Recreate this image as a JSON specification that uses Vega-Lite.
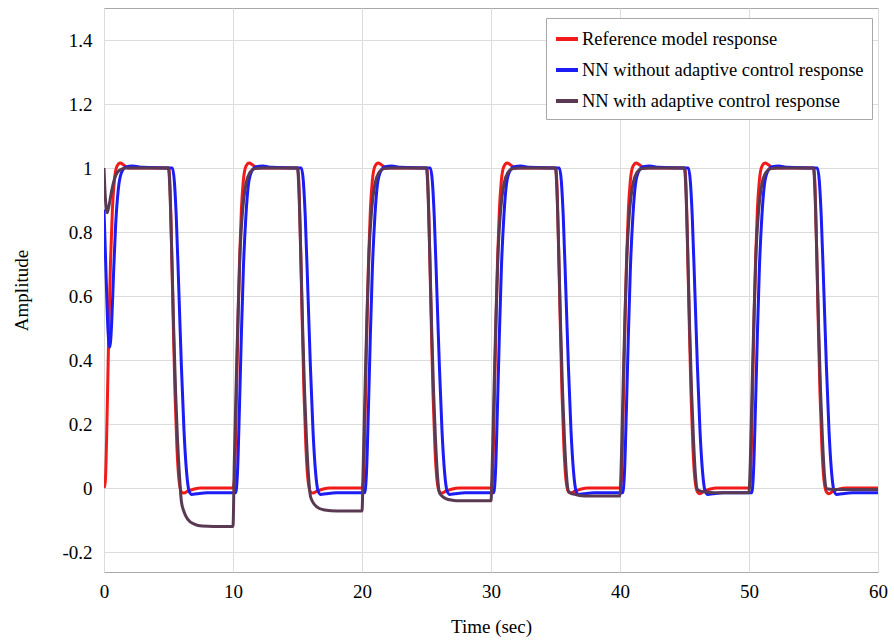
{
 "$schema": "https://vega.github.io/schema/vega-lite/v6.json",
 "width": 774, "height": 564,
 "autosize": {"type": "none"},
 "padding": {"left": 104, "top": 8, "right": 16, "bottom": 69},
 "background": "white",
 "config": {"view": {"stroke": "#a8a8a8", "strokeWidth": 1}, "font": "'Liberation Serif', 'Times New Roman', serif"},
 "encoding": {
  "x": {"field": "t", "type": "quantitative", "scale": {"domain": [0, 60], "nice": false},
   "axis": {"values": [0, 10, 20, 30, 40, 50, 60], "title": "Time (sec)", "grid": true, "gridColor": "#dcdcdc", "domain": false, "ticks": false,
    "labelFontSize": 19, "labelFont": "'Liberation Serif', 'Times New Roman', serif", "labelColor": "black", "labelPadding": 10, "labelFlush": false, "labelOverlap": false,
    "titleFontSize": 19, "titleFont": "'Liberation Serif', 'Times New Roman', serif", "titleFontWeight": "normal", "titleColor": "black", "titlePadding": 16}},
  "y": {"field": "y", "type": "quantitative", "scale": {"domain": [-0.2625, 1.5], "nice": false, "zero": false},
   "axis": {"values": [-0.2, 0, 0.2, 0.4, 0.6, 0.8, 1, 1.2, 1.4], "labelExpr": "'' + datum.value", "title": "Amplitude", "grid": true, "gridColor": "#dcdcdc", "domain": false, "ticks": false,
    "labelFontSize": 19, "labelFont": "'Liberation Serif', 'Times New Roman', serif", "labelColor": "black", "labelPadding": 12, "labelOverlap": false,
    "titleFontSize": 19, "titleFont": "'Liberation Serif', 'Times New Roman', serif", "titleFontWeight": "normal", "titleColor": "black", "titlePadding": 30}}
 },
 "layer": [
  {
   "data": {"values": [
    {"t":0,"y":0},{"t":0.1,"y":0.02},{"t":0.2,"y":0.15},{"t":0.35,"y":0.45},{"t":0.5,"y":0.7},{"t":0.65,"y":0.87},{"t":0.8,"y":0.96},{"t":1,"y":1.005},{"t":1.25,"y":1.016},{"t":1.5,"y":1.01},{"t":1.9,"y":1},{"t":5,"y":1},
    {"t":5.1,"y":0.96},{"t":5.2,"y":0.82},{"t":5.35,"y":0.55},{"t":5.5,"y":0.3},{"t":5.65,"y":0.13},{"t":5.8,"y":0.03},{"t":6,"y":-0.012},{"t":6.2,"y":-0.016},{"t":6.5,"y":-0.01},{"t":7,"y":-0.003},{"t":7.5,"y":0},{"t":10,"y":0},
    {"t":10.1,"y":0.02},{"t":10.2,"y":0.15},{"t":10.35,"y":0.45},{"t":10.5,"y":0.7},{"t":10.65,"y":0.87},{"t":10.8,"y":0.96},{"t":11,"y":1.005},{"t":11.25,"y":1.016},{"t":11.5,"y":1.01},{"t":11.9,"y":1},{"t":15,"y":1},
    {"t":15.1,"y":0.96},{"t":15.2,"y":0.82},{"t":15.35,"y":0.55},{"t":15.5,"y":0.3},{"t":15.65,"y":0.13},{"t":15.8,"y":0.03},{"t":16,"y":-0.012},{"t":16.2,"y":-0.016},{"t":16.5,"y":-0.01},{"t":17,"y":-0.003},{"t":17.5,"y":0},{"t":20,"y":0},
    {"t":20.1,"y":0.02},{"t":20.2,"y":0.15},{"t":20.35,"y":0.45},{"t":20.5,"y":0.7},{"t":20.65,"y":0.87},{"t":20.8,"y":0.96},{"t":21,"y":1.005},{"t":21.25,"y":1.016},{"t":21.5,"y":1.01},{"t":21.9,"y":1},{"t":25,"y":1},
    {"t":25.1,"y":0.96},{"t":25.2,"y":0.82},{"t":25.35,"y":0.55},{"t":25.5,"y":0.3},{"t":25.65,"y":0.13},{"t":25.8,"y":0.03},{"t":26,"y":-0.012},{"t":26.2,"y":-0.016},{"t":26.5,"y":-0.01},{"t":27,"y":-0.003},{"t":27.5,"y":0},{"t":30,"y":0},
    {"t":30.1,"y":0.02},{"t":30.2,"y":0.15},{"t":30.35,"y":0.45},{"t":30.5,"y":0.7},{"t":30.65,"y":0.87},{"t":30.8,"y":0.96},{"t":31,"y":1.005},{"t":31.25,"y":1.016},{"t":31.5,"y":1.01},{"t":31.9,"y":1},{"t":35,"y":1},
    {"t":35.1,"y":0.96},{"t":35.2,"y":0.82},{"t":35.35,"y":0.55},{"t":35.5,"y":0.3},{"t":35.65,"y":0.13},{"t":35.8,"y":0.03},{"t":36,"y":-0.012},{"t":36.2,"y":-0.016},{"t":36.5,"y":-0.01},{"t":37,"y":-0.003},{"t":37.5,"y":0},{"t":40,"y":0},
    {"t":40.1,"y":0.02},{"t":40.2,"y":0.15},{"t":40.35,"y":0.45},{"t":40.5,"y":0.7},{"t":40.65,"y":0.87},{"t":40.8,"y":0.96},{"t":41,"y":1.005},{"t":41.25,"y":1.016},{"t":41.5,"y":1.01},{"t":41.9,"y":1},{"t":45,"y":1},
    {"t":45.1,"y":0.96},{"t":45.2,"y":0.82},{"t":45.35,"y":0.55},{"t":45.5,"y":0.3},{"t":45.65,"y":0.13},{"t":45.8,"y":0.03},{"t":46,"y":-0.012},{"t":46.2,"y":-0.018},{"t":46.5,"y":-0.01},{"t":47,"y":-0.003},{"t":47.5,"y":0},{"t":50,"y":0},
    {"t":50.1,"y":0.02},{"t":50.2,"y":0.15},{"t":50.35,"y":0.45},{"t":50.5,"y":0.7},{"t":50.65,"y":0.87},{"t":50.8,"y":0.96},{"t":51,"y":1.005},{"t":51.25,"y":1.016},{"t":51.5,"y":1.01},{"t":51.9,"y":1},{"t":55,"y":1},
    {"t":55.1,"y":0.96},{"t":55.2,"y":0.82},{"t":55.35,"y":0.55},{"t":55.5,"y":0.3},{"t":55.65,"y":0.13},{"t":55.8,"y":0.03},{"t":56,"y":-0.012},{"t":56.2,"y":-0.018},{"t":56.5,"y":-0.01},{"t":57,"y":-0.003},{"t":57.5,"y":0},{"t":60,"y":0}
   ]},
   "mark": {"type": "line", "strokeWidth": 3, "interpolate": "monotone", "clip": true},
   "encoding": {"color": {"datum": "Reference model response", "type": "nominal",
    "scale": {"domain": ["Reference model response", "NN without adaptive control response", "NN with adaptive control response"], "range": ["#f21b1b", "#1c1cf5", "#5a3a52"]},
    "legend": {"orient": "none", "legendX": 442, "legendY": 10, "title": null, "symbolType": "stroke", "symbolStrokeWidth": 4, "symbolSize": 484,
     "labelFont": "'Liberation Serif', 'Times New Roman', serif", "labelFontSize": 18.5, "labelColor": "black", "labelLimit": 400, "labelOffset": 2, "padding": 8, "rowPadding": 8,
     "strokeColor": "#a8a8a8", "fillColor": "white"}}}
  },
  {
   "data": {"values": [
    {"t":0,"y":0.87},{"t":0.15,"y":0.68},{"t":0.3,"y":0.5},{"t":0.45,"y":0.44},{"t":0.6,"y":0.52},{"t":0.75,"y":0.68},{"t":0.9,"y":0.82},{"t":1.1,"y":0.93},{"t":1.35,"y":0.985},{"t":1.7,"y":1.003},{"t":2.2,"y":1.006},{"t":3,"y":1.002},{"t":5.3,"y":1},
    {"t":5.45,"y":0.96},{"t":5.6,"y":0.85},{"t":5.8,"y":0.62},{"t":6,"y":0.38},{"t":6.2,"y":0.18},{"t":6.4,"y":0.05},{"t":6.6,"y":-0.01},{"t":6.8,"y":-0.02},{"t":7.2,"y":-0.018},{"t":8,"y":-0.015},{"t":10.2,"y":-0.015},
    {"t":10.35,"y":0.05},{"t":10.5,"y":0.25},{"t":10.65,"y":0.48},{"t":10.8,"y":0.68},{"t":11,"y":0.85},{"t":11.2,"y":0.95},{"t":11.45,"y":0.99},{"t":11.8,"y":1.004},{"t":12.3,"y":1.006},{"t":13,"y":1.002},{"t":15.3,"y":1},
    {"t":15.45,"y":0.96},{"t":15.6,"y":0.85},{"t":15.8,"y":0.62},{"t":16,"y":0.38},{"t":16.2,"y":0.18},{"t":16.4,"y":0.05},{"t":16.6,"y":-0.01},{"t":16.8,"y":-0.02},{"t":17.2,"y":-0.018},{"t":18,"y":-0.015},{"t":20.2,"y":-0.015},
    {"t":20.35,"y":0.05},{"t":20.5,"y":0.25},{"t":20.65,"y":0.48},{"t":20.8,"y":0.68},{"t":21,"y":0.85},{"t":21.2,"y":0.95},{"t":21.45,"y":0.99},{"t":21.8,"y":1.004},{"t":22.3,"y":1.006},{"t":23,"y":1.002},{"t":25.3,"y":1},
    {"t":25.45,"y":0.96},{"t":25.6,"y":0.85},{"t":25.8,"y":0.62},{"t":26,"y":0.38},{"t":26.2,"y":0.18},{"t":26.4,"y":0.05},{"t":26.6,"y":-0.01},{"t":26.8,"y":-0.02},{"t":27.2,"y":-0.018},{"t":28,"y":-0.015},{"t":30.2,"y":-0.015},
    {"t":30.35,"y":0.05},{"t":30.5,"y":0.25},{"t":30.65,"y":0.48},{"t":30.8,"y":0.68},{"t":31,"y":0.85},{"t":31.2,"y":0.95},{"t":31.45,"y":0.99},{"t":31.8,"y":1.004},{"t":32.3,"y":1.006},{"t":33,"y":1.002},{"t":35.3,"y":1},
    {"t":35.45,"y":0.96},{"t":35.6,"y":0.85},{"t":35.8,"y":0.62},{"t":36,"y":0.38},{"t":36.2,"y":0.18},{"t":36.4,"y":0.05},{"t":36.6,"y":-0.01},{"t":36.8,"y":-0.02},{"t":37.2,"y":-0.018},{"t":38,"y":-0.015},{"t":40.2,"y":-0.015},
    {"t":40.35,"y":0.05},{"t":40.5,"y":0.25},{"t":40.65,"y":0.48},{"t":40.8,"y":0.68},{"t":41,"y":0.85},{"t":41.2,"y":0.95},{"t":41.45,"y":0.99},{"t":41.8,"y":1.004},{"t":42.3,"y":1.006},{"t":43,"y":1.002},{"t":45.3,"y":1},
    {"t":45.45,"y":0.96},{"t":45.6,"y":0.85},{"t":45.8,"y":0.62},{"t":46,"y":0.38},{"t":46.2,"y":0.18},{"t":46.4,"y":0.05},{"t":46.6,"y":-0.01},{"t":46.8,"y":-0.02},{"t":47.2,"y":-0.018},{"t":48,"y":-0.015},{"t":50.2,"y":-0.015},
    {"t":50.35,"y":0.05},{"t":50.5,"y":0.25},{"t":50.65,"y":0.48},{"t":50.8,"y":0.68},{"t":51,"y":0.85},{"t":51.2,"y":0.95},{"t":51.45,"y":0.99},{"t":51.8,"y":1.004},{"t":52.3,"y":1.006},{"t":53,"y":1.002},{"t":55.3,"y":1},
    {"t":55.45,"y":0.96},{"t":55.6,"y":0.85},{"t":55.8,"y":0.62},{"t":56,"y":0.38},{"t":56.2,"y":0.18},{"t":56.4,"y":0.05},{"t":56.6,"y":-0.01},{"t":56.8,"y":-0.02},{"t":57.2,"y":-0.018},{"t":58,"y":-0.015},{"t":60,"y":-0.015}
   ]},
   "mark": {"type": "line", "strokeWidth": 3, "interpolate": "monotone", "clip": true},
   "encoding": {"color": {"datum": "NN without adaptive control response", "type": "nominal"}}
  },
  {
   "data": {"values": [
    {"t":0,"y":1},{"t":0.1,"y":0.91},{"t":0.25,"y":0.86},{"t":0.4,"y":0.885},{"t":0.6,"y":0.93},{"t":0.85,"y":0.97},{"t":1.2,"y":0.993},{"t":1.7,"y":1},{"t":5,"y":1},
    {"t":5.1,"y":0.94},{"t":5.25,"y":0.74},{"t":5.4,"y":0.5},{"t":5.55,"y":0.3},{"t":5.7,"y":0.15},{"t":5.85,"y":0.04},{"t":6,"y":-0.042},{"t":6.2,"y":-0.074},{"t":6.5,"y":-0.098},{"t":7,"y":-0.113},{"t":7.6,"y":-0.119},{"t":8.5,"y":-0.12},{"t":10,"y":-0.12},
    {"t":10.1,"y":0.08},{"t":10.25,"y":0.33},{"t":10.4,"y":0.56},{"t":10.55,"y":0.74},{"t":10.75,"y":0.87},{"t":11,"y":0.95},{"t":11.3,"y":0.985},{"t":11.7,"y":0.998},{"t":12.2,"y":1},{"t":15,"y":1},
    {"t":15.1,"y":0.94},{"t":15.25,"y":0.74},{"t":15.4,"y":0.5},{"t":15.55,"y":0.3},{"t":15.7,"y":0.15},{"t":15.85,"y":0.04},{"t":16,"y":-0.025},{"t":16.2,"y":-0.045},{"t":16.5,"y":-0.059},{"t":17,"y":-0.068},{"t":17.6,"y":-0.071},{"t":18.5,"y":-0.072},{"t":20,"y":-0.072},
    {"t":20.1,"y":0.08},{"t":20.25,"y":0.33},{"t":20.4,"y":0.56},{"t":20.55,"y":0.74},{"t":20.75,"y":0.87},{"t":21,"y":0.95},{"t":21.3,"y":0.985},{"t":21.7,"y":0.998},{"t":22.2,"y":1},{"t":25,"y":1},
    {"t":25.1,"y":0.94},{"t":25.25,"y":0.74},{"t":25.4,"y":0.5},{"t":25.55,"y":0.3},{"t":25.7,"y":0.15},{"t":25.85,"y":0.04},{"t":26,"y":-0.014},{"t":26.2,"y":-0.025},{"t":26.5,"y":-0.033},{"t":27,"y":-0.038},{"t":27.6,"y":-0.04},{"t":30,"y":-0.04},
    {"t":30.1,"y":0.08},{"t":30.25,"y":0.33},{"t":30.4,"y":0.56},{"t":30.55,"y":0.74},{"t":30.75,"y":0.87},{"t":31,"y":0.95},{"t":31.3,"y":0.985},{"t":31.7,"y":0.998},{"t":32.2,"y":1},{"t":35,"y":1},
    {"t":35.1,"y":0.94},{"t":35.25,"y":0.74},{"t":35.4,"y":0.5},{"t":35.55,"y":0.3},{"t":35.7,"y":0.15},{"t":35.85,"y":0.04},{"t":36,"y":-0.009},{"t":36.2,"y":-0.016},{"t":36.5,"y":-0.02},{"t":37,"y":-0.024},{"t":37.6,"y":-0.025},{"t":40,"y":-0.025},
    {"t":40.1,"y":0.08},{"t":40.25,"y":0.33},{"t":40.4,"y":0.56},{"t":40.55,"y":0.74},{"t":40.75,"y":0.87},{"t":41,"y":0.95},{"t":41.3,"y":0.985},{"t":41.7,"y":0.998},{"t":42.2,"y":1},{"t":45,"y":1},
    {"t":45.1,"y":0.94},{"t":45.25,"y":0.74},{"t":45.4,"y":0.5},{"t":45.55,"y":0.3},{"t":45.7,"y":0.15},{"t":45.85,"y":0.04},{"t":46,"y":-0.005},{"t":46.2,"y":-0.009},{"t":46.5,"y":-0.012},{"t":47,"y":-0.014},{"t":47.6,"y":-0.015},{"t":50,"y":-0.015},
    {"t":50.1,"y":0.08},{"t":50.25,"y":0.33},{"t":50.4,"y":0.56},{"t":50.55,"y":0.74},{"t":50.75,"y":0.87},{"t":51,"y":0.95},{"t":51.3,"y":0.985},{"t":51.7,"y":0.998},{"t":52.2,"y":1},{"t":55,"y":1},
    {"t":55.1,"y":0.94},{"t":55.25,"y":0.74},{"t":55.4,"y":0.5},{"t":55.55,"y":0.3},{"t":55.7,"y":0.15},{"t":55.85,"y":0.04},{"t":56,"y":-0.002},{"t":56.3,"y":-0.004},{"t":57,"y":-0.005},{"t":60,"y":-0.005}
   ]},
   "mark": {"type": "line", "strokeWidth": 3, "interpolate": "monotone", "clip": true},
   "encoding": {"color": {"datum": "NN with adaptive control response", "type": "nominal"}}
  }
 ]
}
